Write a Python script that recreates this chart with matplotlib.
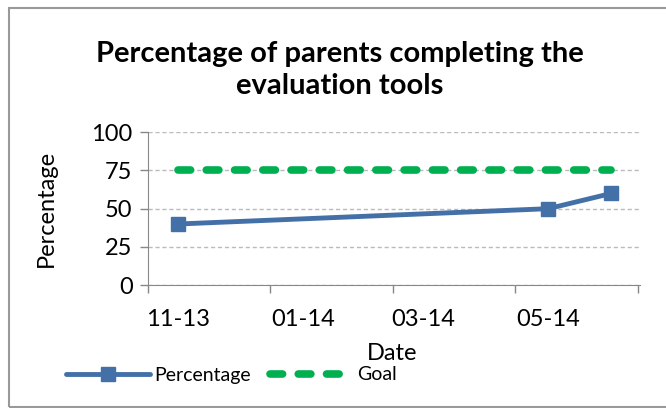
import datetime as dt
import matplotlib
matplotlib.use('Agg')
import matplotlib.pyplot as plt
import matplotlib.dates as mdates
from matplotlib.patches import Rectangle

# data
pct_dates = [dt.date(2013, 11, 1), dt.date(2014, 5, 1), dt.date(2014, 6, 1)]
pct_values = [40, 50, 60]
goal_dates = [dt.date(2013, 11, 1), dt.date(2014, 6, 1)]
goal_values = [75, 75]
label_dates = [dt.date(2013, 11, 1), dt.date(2014, 1, 1),
               dt.date(2014, 3, 1), dt.date(2014, 5, 1)]

plt.rcParams['font.family'] = ['Lato', 'DejaVu Sans']

fig = plt.figure(figsize=(6.66, 4.08), dpi=100)
ax = fig.add_axes([0.222, 0.301, 0.739, 0.375])

ax.plot(pct_dates, pct_values, color='#4470A8', lw=3.5, marker='s',
        ms=10, label='Percentage', solid_capstyle='round')
ax.plot(goal_dates, goal_values, color='#00B050', lw=5.5, ls=(0, (1.65, 2.05)),
        label='Goal', dash_capstyle='round')

ax.set_ylim(0, 100)
ax.set_yticks([0, 25, 50, 75, 100])
ax.set_xlim(dt.date(2013, 10, 17), dt.date(2014, 6, 15))

# labels sit on month starts, tick marks sit between them
ax.set_xticks(label_dates)
ax.xaxis.set_major_formatter(mdates.DateFormatter('%m-%y'))
ax.tick_params(axis='x', length=0, pad=17)
edges = [dt.date(2013, 10, 17) + dt.timedelta(days=60 * i) for i in range(5)]
ax.set_xticks(edges, minor=True)
ax.tick_params(axis='x', which='minor', length=6, color='#888888', width=1)
ax.tick_params(axis='y', length=6, color='#888888', width=1, pad=5)
ax.tick_params(labelsize=17)

ax.grid(axis='y', color='#BBBBBB', ls=(0, (3, 2)), lw=1)
ax.set_axisbelow(True)
for s in ['top', 'right']:
    ax.spines[s].set_visible(False)
for s in ['left', 'bottom']:
    ax.spines[s].set_color('#888888')

ax.set_ylabel('Percentage', fontsize=17)
ax.yaxis.set_label_coords(-0.185, 0.5)
ax.set_xlabel('Date', fontsize=17)
ax.xaxis.set_label_coords(0.496, -0.38)

fig.text(0.51, 0.828, 'Percentage of parents completing the\nevaluation tools',
         ha='center', va='center', fontsize=21, fontweight='bold',
         linespacing=1.3)

fig.legend(loc='center left', bbox_to_anchor=(0.085, 1 - 375 / 408), ncol=2,
           frameon=False, fontsize=14, handlelength=4.3, handletextpad=0.2,
           columnspacing=1.0, borderpad=0)

fig.patches.append(Rectangle((9, 1), 680, 399, transform=None, fill=False,
                             edgecolor='#999999', lw=1.5))

fig.savefig('out.png', dpi=100)
